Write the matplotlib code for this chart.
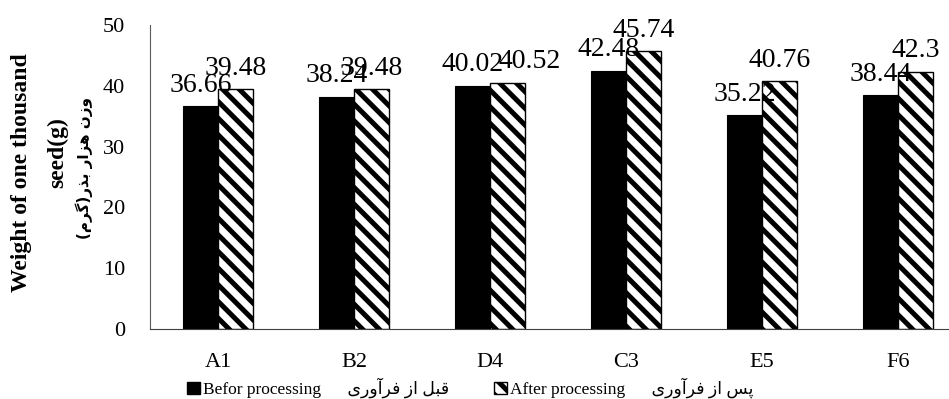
import numpy as np
import matplotlib
matplotlib.use('Agg')
import matplotlib.pyplot as plt
from matplotlib.patches import Patch

# Data
categories = ['A1', 'B2', 'D4', 'C3', 'E5', 'F6']
before = [36.66, 38.24, 40.02, 42.48, 35.22, 38.44]
after = [39.48, 39.48, 40.52, 45.74, 40.76, 42.3]

label_before_en = 'Befor processing'
label_before_fa = 'قبل از فرآوری'
label_after_en = 'After processing'
label_after_fa = 'پس از فرآوری'
ylabel_en_1 = 'Weight of one thousand'
ylabel_en_2 = 'seed(g)'
ylabel_fa = 'وزن هزار بذر(گرم)'

# Arabic presentation forms: isolated, final, initial, medial
FORMS = {
    'ا': ('\uFE8D', '\uFE8E', None, None),
    'آ': ('\uFE81', '\uFE82', None, None),
    'ب': ('\uFE8F', '\uFE90', '\uFE91', '\uFE92'),
    'پ': ('\uFB56', '\uFB57', '\uFB58', '\uFB59'),
    'ذ': ('\uFEAB', '\uFEAC', None, None),
    'ر': ('\uFEAD', '\uFEAE', None, None),
    'ز': ('\uFEAF', '\uFEB0', None, None),
    'س': ('\uFEB1', '\uFEB2', '\uFEB3', '\uFEB4'),
    'ف': ('\uFED1', '\uFED2', '\uFED3', '\uFED4'),
    'ق': ('\uFED5', '\uFED6', '\uFED7', '\uFED8'),
    'گ': ('\uFB92', '\uFB93', '\uFB94', '\uFB95'),
    'ل': ('\uFEDD', '\uFEDE', '\uFEDF', '\uFEE0'),
    'م': ('\uFEE1', '\uFEE2', '\uFEE3', '\uFEE4'),
    'ن': ('\uFEE5', '\uFEE6', '\uFEE7', '\uFEE8'),
    'ه': ('\uFEE9', '\uFEEA', '\uFEEB', '\uFEEC'),
    'و': ('\uFEED', '\uFEEE', None, None),
    'ی': ('\uFBFC', '\uFBFD', '\uFBFE', '\uFBFF'),
}


def shape(s):
    """Join Persian letters and put them in visual (left-to-right) order."""
    out = []
    for i, ch in enumerate(s):
        if ch not in FORMS:
            out.append(ch)
            continue
        iso, fin, ini, med = FORMS[ch]
        prev = s[i - 1] if i > 0 else ''
        nxt = s[i + 1] if i + 1 < len(s) else ''
        jp = prev in FORMS and FORMS[prev][2] is not None
        jn = ini is not None and nxt in FORMS
        out.append(med if jp and jn else fin if jp else ini if jn else iso)
    return ''.join(reversed(out)).translate(str.maketrans('()', ')('))


plt.rcParams['font.family'] = ['Liberation Serif', 'DejaVu Sans']
plt.rcParams['hatch.linewidth'] = 3.6

fig = plt.figure(figsize=(9.49, 3.99), dpi=100)
ax = fig.add_axes([150 / 949, 70 / 399, 816 / 949, 304 / 399])

x = np.arange(len(categories))
w = 0.26
b1 = ax.bar(x - w / 2, before, w, color='black', edgecolor='black', linewidth=0.8)
b2 = ax.bar(x + w / 2, after, w, color='white', edgecolor='black',
            hatch='\\\\', linewidth=1.0)

# the D4 "after" label sits a little to the right in the original
nudge = {(1, 2): 16}
for k, (bars, vals) in enumerate(((b1, before), (b2, after))):
    for i, (r, v) in enumerate(zip(bars, vals)):
        ax.annotate(f'{v:g}', (r.get_x() + r.get_width() / 2, v),
                    xytext=(nudge.get((k, i), 0), 6), textcoords='offset points',
                    ha='center', va='bottom', fontsize=20)

ax.set_xlim(-0.5, len(categories) - 0.5)
ax.set_ylim(0, 50)
ax.set_yticks(range(0, 51, 10))
ax.set_xticks(x)
ax.set_xticklabels(categories)
ax.tick_params(axis='x', length=0, pad=17, labelsize=16)
ax.tick_params(axis='y', length=0, pad=18, labelsize=16)
for side in ('top', 'right'):
    ax.spines[side].set_visible(False)
ax.spines['left'].set_color('#595959')
ax.spines['bottom'].set_color('#404040')

# Y axis title, three lines
fig.text(22 / 949, 1 - 173 / 399, ylabel_en_1, rotation=90, ha='center',
         va='center', fontsize=17, fontweight='bold')
fig.text(58 / 949, 1 - 153 / 399, ylabel_en_2, rotation=90, ha='center',
         va='center', fontsize=17, fontweight='bold')
fig.text(84 / 949, 1 - 168 / 399, shape(ylabel_fa), rotation=90, ha='center',
         va='center', fontsize=11, fontweight='bold', family='DejaVu Sans')

handles = [Patch(facecolor='black', edgecolor='black'),
           Patch(facecolor='white', edgecolor='black', hatch='\\\\')]
labels = [label_before_en + '      ' + shape(label_before_fa),
          label_after_en + '      ' + shape(label_after_fa)]
fig.legend(handles, labels, loc='center', bbox_to_anchor=(470 / 949, 1 - 388 / 399),
           ncol=2, frameon=False, fontsize=12.5, handlelength=0.75, handleheight=0.75,
           handletextpad=0.15, columnspacing=2.6, borderpad=0, borderaxespad=0)

fig.savefig('out.png', dpi=100)
